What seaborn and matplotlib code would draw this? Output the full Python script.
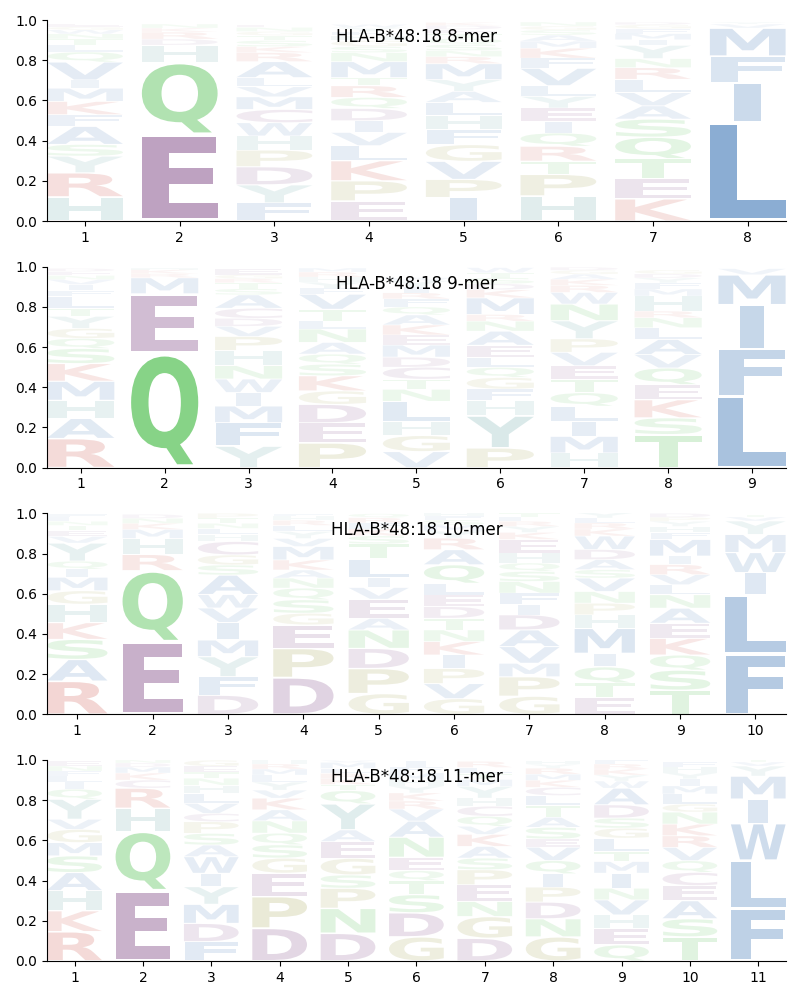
import matplotlib
matplotlib.use("Agg")
import matplotlib.pyplot as plt
import seaborn as sns
from matplotlib.textpath import TextPath
from matplotlib.patches import PathPatch
from matplotlib.font_manager import FontProperties
from matplotlib.transforms import Affine2D

# ---------------- data (bottom -> top in each column) ----------------
titles = ["HLA-B*48:18 8-mer", "HLA-B*48:18 9-mer", "HLA-B*48:18 10-mer", "HLA-B*48:18 11-mer"]

letters_8mer = ["HRYSAFKMIVQLTNWGE", "EQHDRKN", "FYDPHWCMVLARKSTGNE", "EPKLVIDQRTMNSGHFYW",
                "IPVGFHLAYMRNSQTEDK", "HPTRQIEYLVFKMASGN", "KETQSAVLRNYIMFGD", "LIFMVY"]
heights_8mer = [
    [.12, .12, .083, .058, .09, .058, .066, .066, .04, .09, .05, .035, .03, .025, .02, .015, .015],
    [.43, .36, .085, .03, .035, .02, .02],
    [.09, .09, .09, .083, .07, .066, .066, .063, .05, .045, .08, .045, .03, .03, .025, .02, .02, .015],
    [.10, .10, .10, .075, .066, .058, .061, .055, .058, .04, .08, .045, .03, .03, .025, .02, .02, .015],
    [.117, .09, .09, .083, .074, .07, .066, .055, .058, .08, .035, .03, .03, .03, .025, .02, .02, .015],
    [.125, .107, .066, .074, .066, .058, .066, .058, .053, .087, .05, .05, .035, .03, .025, .02, .02],
    [.11, .10, .10, .107, .09, .066, .066, .066, .058, .045, .066, .028, .03, .025, .02, .012],
    [.49, .20, .13, .14, .02, .01],
]

letters_9mer = ["RAHMKSQGYTLFIVNED", "QEMRKH", "YFMIWNHPVDCASTRGE", "PEDGKSQANLTVFYHRM",
                "VGHLNTCDMEKAQFRIYW", "PYHFGQLEANRMKDSTW", "HMILQTEVPYNWRKAGD", "TSKEQVALNRHMFYDG", "LFIMV"]
heights_9mer = [
    [.145, .10, .09, .095, .088, .075, .05, .05, .06, .04, .058, .03, .03, .025, .02, .02, .015],
    [.57, .295, .08, .02, .02, .01],
    [.107, .117, .083, .067, .067, .067, .075, .07, .05, .04, .05, .067, .03, .03, .02, .02, .03],
    [.123, .10, .092, .067, .075, .058, .05, .058, .067, .04, .058, .075, .03, .03, .025, .025, .02],
    [.08, .08, .07, .10, .06, .05, .06, .05, .06, .05, .05, .05, .04, .04, .03, .03, .03, .015],
    [.098, .16, .075, .058, .058, .05, .05, .06, .07, .05, .033, .083, .04, .03, .03, .025, .025],
    [.073, .083, .075, .075, .067, .067, .067, .067, .067, .09, .083, .058, .035, .03, .025, .02, .015],
    [.165, .083, .09, .075, .083, .067, .075, .058, .05, .033, .075, .035, .03, .025, .02, .02],
    [.355, .235, .22, .15, .03],
]

letters_10mer = ["RASKHGMIQYVETNLF", "EQRHMKND", "DFYMIVWASGCHLNTP", "DPEGSQNAKMVYLRHF",
                 "GPDNAEVILTSKFRQ", "GVPIKNTDELQARYMSFH", "GPMVADIFNSQHEKYRLT",
                 "ETQIMHPNVSADWKRLY", "TSQKEANLVRIMFHYPD", "FLIWMYVT"]
heights_10mer = [
    [.165, .108, .10, .083, .092, .067, .067, .04, .04, .09, .033, .03, .025, .02, .02, .015],
    [.36, .355, .08, .08, .045, .03, .025, .02],
    [.095, .092, .10, .083, .087, .072, .067, .097, .05, .05, .067, .035, .03, .025, .025, .025],
    [.183, .145, .117, .058, .067, .058, .05, .04, .05, .067, .04, .035, .03, .025, .02, .01],
    [.103, .125, .10, .092, .058, .095, .058, .05, .092, .075, .04, .035, .03, .025, .02],
    [.078, .075, .075, .067, .067, .058, .058, .058, .058, .058, .092, .075, .058, .035, .03, .025, .02, .015],
    [.09, .097, .067, .083, .083, .075, .05, .058, .058, .05, .042, .05, .067, .035, .03, .025, .02, .02],
    [.083, .073, .08, .067, .125, .067, .058, .058, .067, .042, .05, .05, .067, .035, .03, .025, .027],
    [.12, .10, .075, .083, .075, .075, .067, .05, .05, .05, .042, .083, .035, .03, .025, .02, .02],
    [.30, .295, .11, .10, .09, .067, .02, .01],
]

letters_11mer = ["RKHASMGVYQILFNE", "EQHRCKMDN", "FDMYIWASPCVLHNTEG", "DPEGSQNAKVYLMRH",
                 "DNPSGEAYQTKRLMV", "GDSTQENAVRKYHMFI", "DGNEPSAKVQCHYMTLR",
                 "GNDPIQVESATLCKMRYH", "QEHVNIMTLGSDAWYKRF", "TSAECQVRKNGLMIYHF", "FLWIMYVT"]
heights_11mer = [
    [.146, .104, .10, .09, .083, .066, .066, .05, .10, .05, .035, .03, .025, .025, .025],
    [.35, .295, .115, .10, .04, .035, .03, .02, .015],
    [.096, .091, .095, .088, .066, .083, .058, .058, .058, .041, .05, .05, .04, .035, .03, .03, .03],
    [.163, .158, .116, .075, .066, .058, .061, .055, .058, .04, .04, .035, .03, .025, .02],
    [.138, .124, .10, .066, .083, .083, .058, .13, .066, .03, .03, .025, .025, .03, .01],
    [.12, .12, .09, .07, .05, .066, .10, .08, .06, .04, .04, .035, .03, .035, .03, .03],
    [.113, .108, .075, .083, .075, .058, .058, .06, .04, .05, .05, .04, .058, .035, .03, .03, .03],
    [.12, .09, .083, .075, .066, .066, .066, .041, .058, .05, .058, .05, .041, .035, .03, .03, .02, .018],
    [.08, .083, .066, .075, .058, .075, .058, .05, .066, .05, .05, .066, .083, .035, .03, .03, .025, .02],
    [.12, .09, .09, .075, .066, .058, .066, .058, .058, .06, .04, .05, .04, .035, .03, .03, .025],
    [.26, .24, .185, .12, .115, .05, .02, .01],
]

panels = [(letters_8mer, heights_8mer), (letters_9mer, heights_9mer),
          (letters_10mer, heights_10mer), (letters_11mer, heights_11mer)]

# ---------------- styling ----------------
class_colors = {
    "hydrophobic": "#4a7fba",
    "aromatic": "#64a5a5",
    "basic": "#d05a50",
    "acidic": "#8c5a91",
    "polar": "#5cc45c",
    "special": "#a5a555",
}
aa_class = {}
for a in "AVLIMFW":
    aa_class[a] = "hydrophobic"
for a in "HY":
    aa_class[a] = "aromatic"
for a in "KR":
    aa_class[a] = "basic"
for a in "DEC":
    aa_class[a] = "acidic"
for a in "NQST":
    aa_class[a] = "polar"
for a in "PG":
    aa_class[a] = "special"

sns.set_style("ticks")
plt.rcParams.update({"text.color": "black", "xtick.color": "black", "ytick.color": "black",
                     "axes.edgecolor": "black", "xtick.labelcolor": "black",
                     "ytick.labelcolor": "black"})
fp = FontProperties(family="DejaVu Sans", weight="bold")
_cache = {}


def get_path(ch):
    if ch not in _cache:
        _cache[ch] = TextPath((0, 0), ch, size=1, prop=fp)
    return _cache[ch]


ref_width = get_path("E").get_extents().width


def draw_glyph(ax, ch, x, y0, h, color, alpha, width=0.8, vpad=0.06):
    path = get_path(ch)
    bb = path.get_extents()
    hs = min(width / bb.width, width / ref_width)
    vs = h * (1 - vpad) / bb.height
    w_act = bb.width * hs
    t = (Affine2D().translate(-bb.x0, -bb.y0).scale(hs, vs)
         .translate(x - w_act / 2, y0 + h * vpad / 2))
    ax.add_patch(PathPatch(t.transform_path(path), facecolor=color,
                           edgecolor="none", alpha=alpha, lw=0))


fig, axes = plt.subplots(4, 1, figsize=(8, 10), dpi=100)
fig.subplots_adjust(left=0.059, right=0.982, top=0.98, bottom=0.039, hspace=0.227)

for ax, title, (letters, heights) in zip(axes, titles, panels):
    n = len(letters)
    for i, (col_letters, col_heights) in enumerate(zip(letters, heights)):
        pos = i + 1
        y = 0.0
        for ch, h in zip(col_letters, col_heights):
            alpha = min(1.0, 0.04 + 1.22 * h)
            draw_glyph(ax, ch, pos, y, h, class_colors[aa_class[ch]], alpha)
            y += h
    ax.set_xlim(0.6, n + 0.4)
    ax.set_ylim(0, 1)
    ax.set_xticks(range(1, n + 1))
    ax.set_yticks([0, 0.2, 0.4, 0.6, 0.8, 1.0])
    ax.set_yticklabels(["0.0", "0.2", "0.4", "0.6", "0.8", "1.0"])
    ax.text(0.5, 0.915, title, transform=ax.transAxes, ha="center", va="center",
            fontsize=12, color="black", zorder=5)
    sns.despine(ax=ax)

fig.savefig("out.png", dpi=100)
